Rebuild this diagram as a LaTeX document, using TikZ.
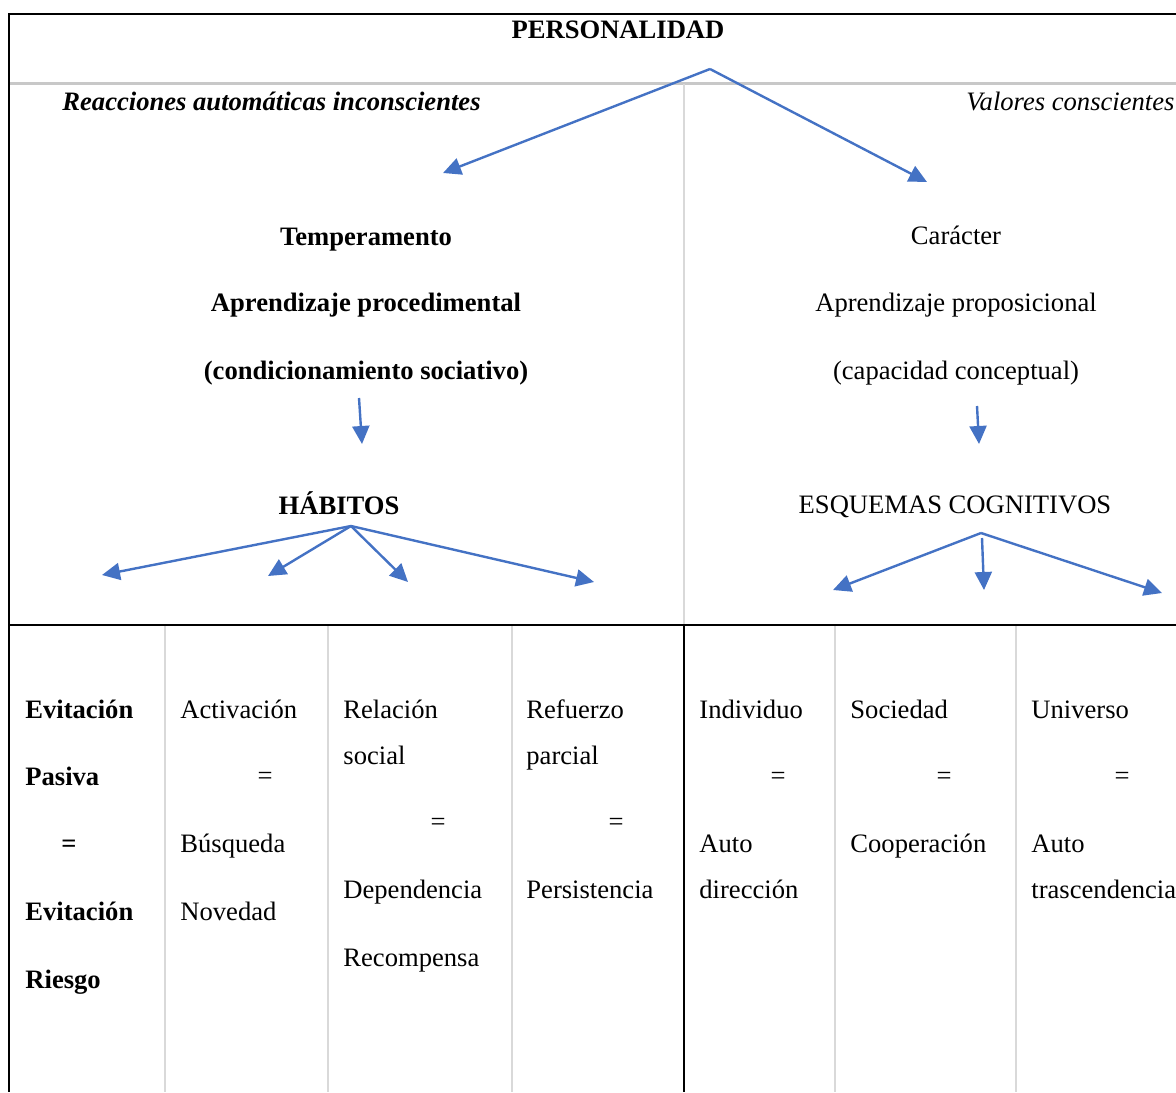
\documentclass[tikz,border=0pt]{standalone}
\usepackage{fontspec}
\setmainfont{Liberation Serif}
\usetikzlibrary{arrows.meta}
\definecolor{arrowblue}{HTML}{4472C4}
\definecolor{rulegrey}{HTML}{C8C8C8}
\definecolor{cellgrey}{HTML}{D9D9D9}
\tikzset{
  txt/.style={inner sep=0pt, font=\fontsize{13.3}{16}\selectfont},
  branch/.style={draw=arrowblue, line width=1.2pt, -{Triangle[length=9pt,width=8.5pt]}},
}
\begin{document}
\begin{tikzpicture}[x=0.5pt, y=-0.5pt]
  \useasboundingbox (0,0) rectangle (1176,1092);
  % table rules
  \draw[rulegrey, line width=1.5pt] (10,83) -- (1176,83);
  \draw[cellgrey, line width=1pt] (684,84) -- (684,625);
  \foreach \x in {165,328,512,835,1016}
    \draw[cellgrey, line width=1pt] (\x,625) -- (\x,1092);
  \draw[line width=1pt] (1176,14) -- (9,14) -- (9,1092);
  \draw[line width=1pt] (9,625) -- (1176,625);
  \draw[line width=1pt] (684,625) -- (684,1092);

  % upper part
  \node[txt, anchor=base] (pers) at (618,39) {\textbf{PERSONALIDAD}};
  \node[txt, anchor=base west] (reac) at (62,110) {\textbf{\textit{Reacciones automáticas inconscientes}}};
  \node[txt, anchor=base west] (valo) at (966,110) {\textit{Valores conscientes}};
  \node[txt, anchor=base] (temp) at (366,245) {\textbf{Temperamento}};
  \node[txt, anchor=base] (aproc) at (366,311) {\textbf{Aprendizaje procedimental}};
  \node[txt, anchor=base] (cond) at (366,379) {\textbf{(condicionamiento sociativo)}};
  \node[txt, anchor=base] (habi) at (339,514) {\textbf{HÁBITOS}};
  \node[txt, anchor=base] (cara) at (956,244) {Carácter};
  \node[txt, anchor=base] (aprop) at (956,311) {Aprendizaje proposicional};
  \node[txt, anchor=base] (capa) at (956,379) {(capacidad conceptual)};
  \node[txt, anchor=base] (esq) at (955,513) {ESQUEMAS COGNITIVOS};

  % arrows
  \coordinate (persTop) at (710,69);
  \coordinate (tempTip) at (443,173);
  \coordinate (caraTip) at (927,182);
  \coordinate (condFoot) at (359,398);
  \coordinate (condTip) at (362,444);
  \coordinate (capaFoot) at (977,406);
  \coordinate (capaTip) at (979,444);
  \coordinate (habiTop) at (351,526);
  \coordinate (esqTop) at (981,533);
  \draw[branch] (persTop) -- (tempTip);
  \draw[branch] (persTop) -- (caraTip);
  \draw[branch] (condFoot) -- (condTip);
  \draw[branch] (capaFoot) -- (capaTip);
  \foreach \n/\x/\y in {ha/102/575, hb/268/576, hc/408/582, hd/594/582} {
    \coordinate (\n) at (\x,\y);
    \draw[branch] (habiTop) -- (\n);
  }
  \draw[branch] (esqTop) -- (833,590) coordinate (ea);
  \coordinate (eb) at (984,590);
  \draw[branch] (982,538) coordinate (esqMid) -- (eb);
  \coordinate (ec) at (1162,593);
  \draw[branch] (esqTop) -- (ec);

  % lower cells
  \foreach \n/\x/\y/\t in {
      c1a/25/718/{\textbf{Evitación}}, c1b/25/785/{\textbf{Pasiva}},
      c1d/25/920/{\textbf{Evitación}}, c1e/25/988/{\textbf{Riesgo}},
      c2a/180/718/{Activación}, c2c/180/852/{Búsqueda}, c2d/180/920/{Novedad},
      c3a/343/718/{Relación}, c3b/343/764/{social}, c3d/343/898/{Dependencia}, c3e/343/966/{Recompensa},
      c4a/526/718/{Refuerzo}, c4b/526/764/{parcial}, c4d/526/898/{Persistencia},
      c5a/699/718/{Individuo}, c5c/699/852/{Auto}, c5d/699/898/{dirección},
      c6a/850/718/{Sociedad}, c6c/850/852/{Cooperación},
      c7a/1031/718/{Universo}, c7c/1031/852/{Auto}, c7d/1031/898/{trascendencia}}
    \node[txt, anchor=base west] (\n) at (\x,\y) {\t};
  \foreach \n/\x/\y/\t in {
      e1/69/852/{\textbf{=}}, e2/265/784/{=}, e3/438/830/{=}, e4/616/830/{=},
      e5/778/784/{=}, e6/944/784/{=}, e7/1122/784/{=}}
    \node[txt, anchor=base] (\n) at (\x,\y) {\t};
\end{tikzpicture}
\end{document}
